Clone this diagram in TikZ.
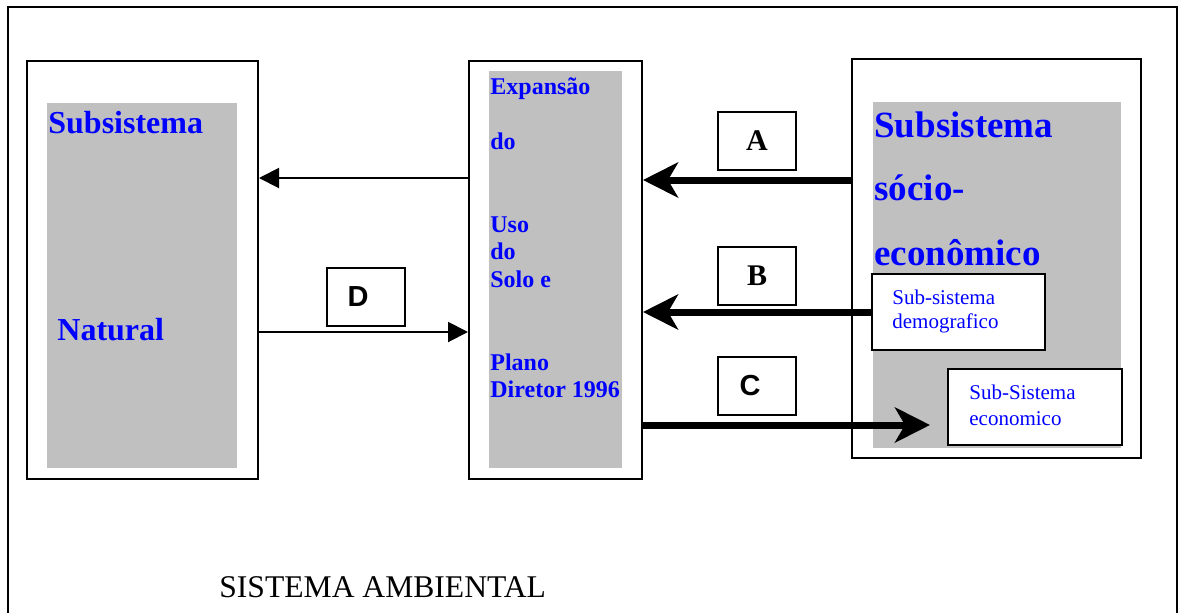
\documentclass[tikz,border=0pt]{standalone}
\usepackage{fontspec}
\setmainfont{Liberation Serif}
\newfontfamily\arialfont{Liberation Sans}
\usepackage{tikz}
\usetikzlibrary{positioning,arrows.meta}
\definecolor{subBlue}{HTML}{0000FF}
\definecolor{panelGray}{HTML}{C0C0C0}

\begin{document}
\begin{tikzpicture}[x=0.5pt, y=-0.5pt,
  outerbox/.style={draw, line width=1pt, fill=white, inner sep=0pt},
  graybox/.style={fill=panelGray, inner sep=0pt},
  subbox/.style={draw, line width=1pt, fill=white, inner sep=0pt,
    minimum height=38pt},
  letterbox/.style={draw, line width=0.8pt, inner sep=0pt,
    minimum width=39pt, minimum height=29pt},
  serifletter/.style={font=\fontsize{15pt}{17pt}\selectfont\bfseries},
  sansletter/.style={font=\fontsize{14.5pt}{16pt}\selectfont\arialfont\bfseries},
  bigtxt/.style={text=subBlue, anchor=base west, inner sep=0pt,
    font=\fontsize{18.5pt}{20pt}\selectfont\bfseries},
  midtxt/.style={text=subBlue, anchor=base west, inner sep=0pt,
    font=\fontsize{16pt}{18pt}\selectfont\bfseries},
  smalltxt/.style={text=subBlue, anchor=base west, inner sep=0pt,
    font=\fontsize{12pt}{13pt}\selectfont\bfseries},
  subtxt/.style={text=subBlue, anchor=base west, inner sep=0pt,
    font=\fontsize{10.5pt}{12pt}\selectfont},
  bigflow/.style={line width=3.5pt,
    -{Stealth[length=17.5pt,width=17.5pt,inset=5pt]}},
  thinflow/.style={line width=1pt, -{Triangle[length=10pt,width=10pt]}}]

  \useasboundingbox (0,0) rectangle (1179,612);

  % outer frame (open at the bottom)
  \draw[line width=1pt] (8,620) |- (1177,7) -- (1177,620);

  % three subsystems
  \node[outerbox, minimum width=115.5pt, minimum height=209pt] (natural) at (142.5,270) {};
  \node[graybox, minimum width=95pt, minimum height=182.5pt] (naturalBg) at (142,285.5) {};
  \node[outerbox, minimum width=86.5pt, minimum height=209pt] (uso) at (555.5,270) {};
  \node[graybox, minimum width=66.5pt, minimum height=198.5pt] (usoBg) at (555.5,269.5) {};
  \node[outerbox, minimum width=144.5pt, minimum height=199.5pt] (socio) at (996.5,258.5) {};
  \node[graybox, minimum width=124pt, minimum height=173pt] (socioBg) at (997,275) {};

  % inner sub-systems
  \node[subbox, minimum width=86.5pt] (demog) at (958.5,312) {};
  \node[subbox, minimum width=87pt] (econ) at (1035,406.5) {};

  % texts
  \node[midtxt] (natTop) at (48,133) {Subsistema};
  \node[midtxt] (natBot) at (57,340) {Natural};
  \foreach \ty/\tx in {94/Expansão, 149/do, 232/Uso, 259/do, 287/Solo e,
                       370/Plano, 397/Diretor 1996}
    \node[smalltxt] (usoTxt\ty) at (490,\ty) {\tx};
  \node[bigtxt] (socTxtA) at (874,137) {Subsistema};
  \node[bigtxt] (socTxtB) at (874,200) {sócio-};
  \node[bigtxt] (socTxtC) at (874,265) {econômico};
  \node[subtxt] (demTxtA) at (892,304) {Sub-sistema};
  \node[subtxt] (demTxtB) at (892,328) {demografico};
  \node[subtxt] (ecoTxtA) at (969,399) {Sub-Sistema};
  \node[subtxt] (ecoTxtB) at (969,425) {economico};

  % flow labels
  \node[letterbox, serifletter] (labA) at (757,141) {A};
  \node[letterbox, serifletter] (labB) at (757,276) {B};
  \node[letterbox, sansletter] (labC) at (757,386) {\hspace*{-7pt}C};
  \node[letterbox, sansletter] (labD) at (366,297) {\hspace*{-8pt}D};

  % flows
  \coordinate (yTop) at (0,178);
  \coordinate (yA) at (0,180);
  \coordinate (yD) at (0,332);
  \coordinate (yC) at (0,425);
  \coordinate (cEnd) at (930,425);
  \draw[thinflow] (uso.west |- yTop) -- (natural.east |- yTop);
  \draw[thinflow] (natural.east |- yD) -- (uso.west |- yD);
  \draw[bigflow] (socio.west |- yA) -- (uso.east |- yA);
  \draw[bigflow] (demog.west) -- (uso.east |- demog.west);
  \draw[bigflow] (uso.east |- yC) -- (cEnd);

  \node[anchor=base west, inner sep=0pt, font=\fontsize{15.8pt}{18pt}\selectfont]
    (title) at (219,597) {SISTEMA AMBIENTAL};
\end{tikzpicture}
\end{document}
